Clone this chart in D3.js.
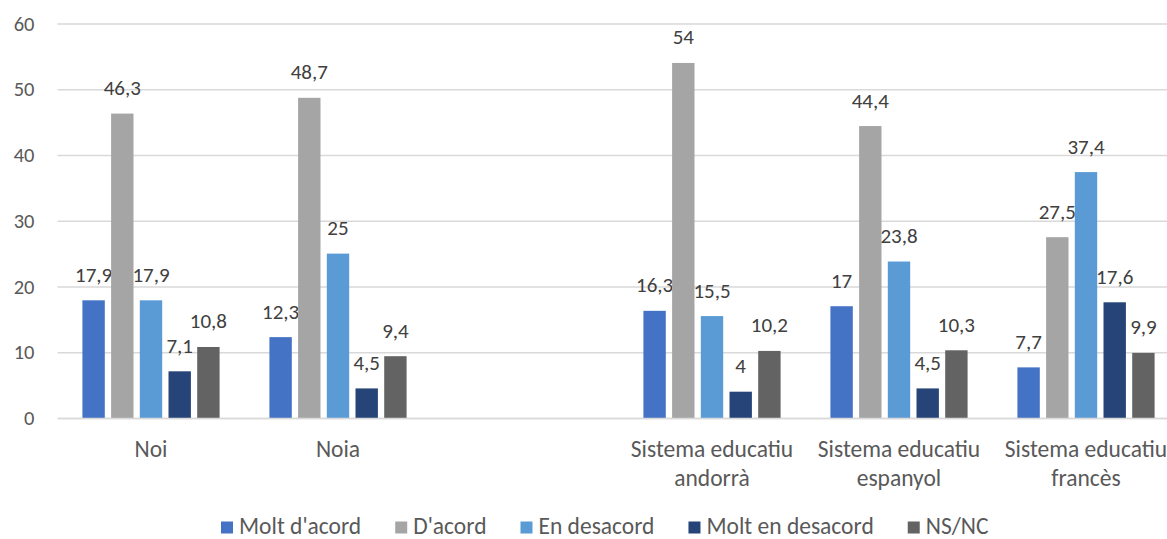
<!DOCTYPE html>
<html>
<head>
<meta charset="utf-8">
<script src="https://cdn.jsdelivr.net/npm/d3@7"></script>
<style>
  html, body { margin: 0; padding: 0; background: #fff; }
  svg { display: block; }
  text { font-family: Calibri, Carlito, Lato, "Open Sans", sans-serif; fill: #404040; }
</style>
</head>
<body>
<svg id="chart" width="1167" height="539"></svg>
<script>
const categories = [
  ["Noi"],
  ["Noia"],
  [""],
  ["Sistema educatiu", "andorrà"],
  ["Sistema educatiu", "espanyol"],
  ["Sistema educatiu", "francès"]
];
const seriesNames = ["Molt d'acord", "D'acord", "En desacord", "Molt en desacord", "NS/NC"];
const moltAcord      = [17.9, 12.3, null, 16.3, 17.0, 7.7];
const acord          = [46.3, 48.7, null, 54.0, 44.4, 27.5];
const desacord       = [17.9, 25.0, null, 15.5, 23.8, 37.4];
const moltDesacord   = [7.1, 4.5, null, 4.0, 4.5, 17.6];
const nsnc           = [10.8, 9.4, null, 10.2, 10.3, 9.9];
const yTicks = [0, 10, 20, 30, 40, 50, 60];
const colors = ["#4472C4", "#A5A5A5", "#5B9BD5", "#264478", "#636363"];

const seriesValues = [moltAcord, acord, desacord, moltDesacord, nsnc];
const fmt = v => String(v).replace(".", ",");

const svg = d3.select("#chart");
const mLeft = 57.5, mRight = 1179.5, mTop = 23.5, mBottom = 418;

const x = d3.scaleBand().domain(d3.range(categories.length)).range([mLeft, mRight]).padding(0);
const xs = d3.scaleBand().domain(seriesNames).range([0, x.bandwidth()])
  .paddingInner(0.22).paddingOuter(0.868);
const y = d3.scaleLinear().domain([0, 60]).range([mBottom, mTop]);

// gridlines
const yAxis = d3.axisLeft(y).tickValues(yTicks).tickSize(-(mRight - mLeft)).tickPadding(23);
const gy = svg.append("g").attr("transform", `translate(${mLeft},0)`).call(yAxis);
gy.select(".domain").remove();
gy.selectAll(".tick line").attr("stroke", "#D9D9D9").attr("stroke-width", 1.3);
gy.selectAll(".tick text").attr("font-size", 20.5)
  .style("font-family", "Calibri, Carlito, Lato, sans-serif").style("fill", "#595959");

// bars
seriesNames.forEach((s, si) => {
  const g = svg.append("g");
  const data = seriesValues[si].map((v, i) => ({ v, i })).filter(d => d.v !== null);
  g.selectAll("rect").data(data).join("rect")
    .attr("x", d => x(d.i) + xs(s))
    .attr("y", d => y(d.v))
    .attr("width", xs.bandwidth())
    .attr("height", d => y(0) - y(d.v))
    .attr("fill", colors[si]);
  g.selectAll("text").data(data).join("text")
    .attr("x", d => x(d.i) + xs(s) + xs.bandwidth() / 2)
    .attr("y", d => y(d.v) - 18.5)
    .attr("text-anchor", "middle")
    .attr("font-size", 21)
    .text(d => fmt(d.v));
});

// x axis line
const xAxis = d3.axisBottom(x).tickSize(0).tickFormat("");
const gx = svg.append("g").attr("transform", `translate(0,${mBottom})`).call(xAxis);
gx.select(".domain").attr("stroke", "#D9D9D9").attr("stroke-width", 1.3);

// category labels
categories.forEach((lines, i) => {
  const t = svg.append("text")
    .attr("x", x(i) + x.bandwidth() / 2)
    .attr("y", 456.5)
    .attr("text-anchor", "middle")
    .attr("font-size", 23.5)
    .style("fill", "#595959");
  lines.forEach((ln, k) => {
    t.append("tspan").attr("x", x(i) + x.bandwidth() / 2).attr("dy", k === 0 ? 0 : 29.5).text(ln);
  });
});

// legend
const lg = svg.append("g");
const items = seriesNames.map((s, i) => {
  const g = lg.append("g");
  g.append("rect").attr("width", 12).attr("height", 12).attr("y", -12.5).attr("fill", colors[i]);
  const t = g.append("text").attr("x", 18).attr("y", 0).attr("font-size", 23.5)
    .style("fill", "#595959").text(s);
  return { g, w: 18 + t.node().getComputedTextLength() };
});
const gap = 34;
let cx = 221;
items.forEach(it => {
  it.g.attr("transform", `translate(${cx},534)`);
  cx += it.w + gap;
});
</script>
</body>
</html>
